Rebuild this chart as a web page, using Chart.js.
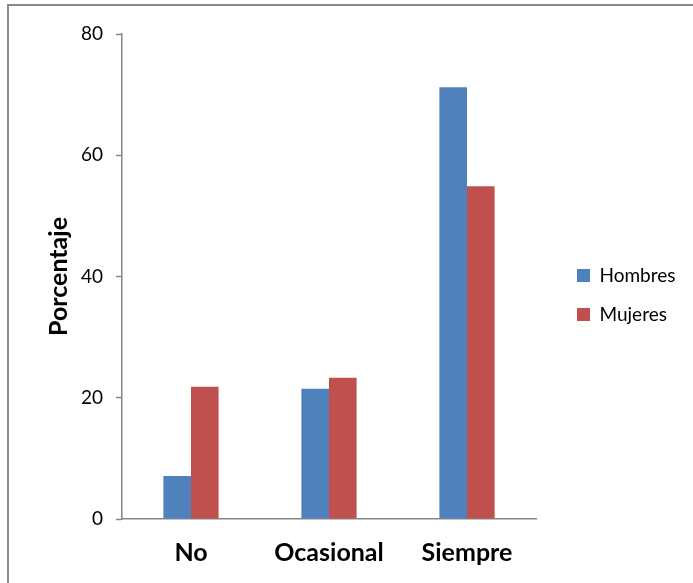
<!DOCTYPE html>
<html>
<head>
<meta charset="utf-8">
<script src="https://cdn.jsdelivr.net/npm/chart.js@4/dist/chart.umd.min.js"></script>
<style>
  html, body { margin: 0; padding: 0; background: #fff; overflow: hidden; }
  #frame {
    position: absolute; left: 7px; top: 4px; width: 720px; height: 620px;
    border-top: 2px solid #8a8a8a; border-left: 2px solid #8a8a8a;
  }
  #wrap { position: absolute; left: 0; top: 0; width: 693px; height: 583px; }
</style>
</head>
<body>
<div id="frame"></div>
<div id="wrap"><canvas id="chart" width="693" height="583"></canvas></div>
<script>
const categories = ['No', 'Ocasional', 'Siempre'];
const hombres = [7.1, 21.5, 71.2];
const mujeres = [21.8, 23.3, 54.9];
const yTicks = [0, 20, 40, 60, 80];

const FONT = "Lato, 'Open Sans', sans-serif";

// keep legend at fixed width and nudge it right of the plot
const legendPlace = {
  id: 'legendPlace',
  afterInit(chart) {
    const fit = chart.legend.fit;
    chart.legend.fit = function () {
      fit.call(this);
      this.width = 157;
    };
  },
  afterLayout(chart) {
    const lg = chart.legend;
    lg.left += 21;
    lg.right += 21;
    const h = lg.bottom - lg.top;
    lg.top = 246;
    lg.bottom = 246 + h;
  }
};

const ctx = document.getElementById('chart').getContext('2d');
new Chart(ctx, {
  type: 'bar',
  data: {
    labels: categories,
    datasets: [
      { label: 'Hombres', data: hombres, backgroundColor: '#4F81BD', borderWidth: 0 },
      { label: 'Mujeres', data: mujeres, backgroundColor: '#C0504D', borderWidth: 0 }
    ]
  },
  options: {
    responsive: false,
    animation: false,
    layout: { padding: { top: 34, right: 0, bottom: 0, left: 0 } },
    datasets: {
      bar: { categoryPercentage: 0.4, barPercentage: 1.0 }
    },
    plugins: {
      tooltip: { enabled: false },
      legend: {
        position: 'right',
        align: 'start',
        labels: {
          boxWidth: 13,
          boxHeight: 13,
          padding: 20,
          color: '#000',
          font: { family: FONT, size: 19 }
        }
      }
    },
    scales: {
      x: {
        grid: { display: false, drawTicks: false },
        border: { color: '#868686', width: 1.5 },
        ticks: {
          color: '#000',
          padding: 19,
          font: { family: FONT, size: 25, weight: 'bold' }
        },
        afterFit(scale) { scale.height = 64; }
      },
      y: {
        min: 0,
        max: 80,
        afterBuildTicks(scale) { scale.ticks = yTicks.map(v => ({ value: v })); },
        grid: { drawOnChartArea: false, drawTicks: true, tickLength: 6, color: '#868686', tickWidth: 1.5 },
        border: { color: '#868686', width: 1.5 },
        ticks: {
          color: '#000',
          padding: 13,
          font: { family: FONT, size: 19 }
        },
        title: {
          display: true,
          text: 'Porcentaje',
          color: '#000',
          padding: { top: 44, bottom: 0 },
          font: { family: FONT, size: 25, weight: 'bold' }
        },
        afterFit(scale) { scale.width = 122; }
      }
    }
  },
  plugins: [legendPlace]
});
</script>
</body>
</html>
